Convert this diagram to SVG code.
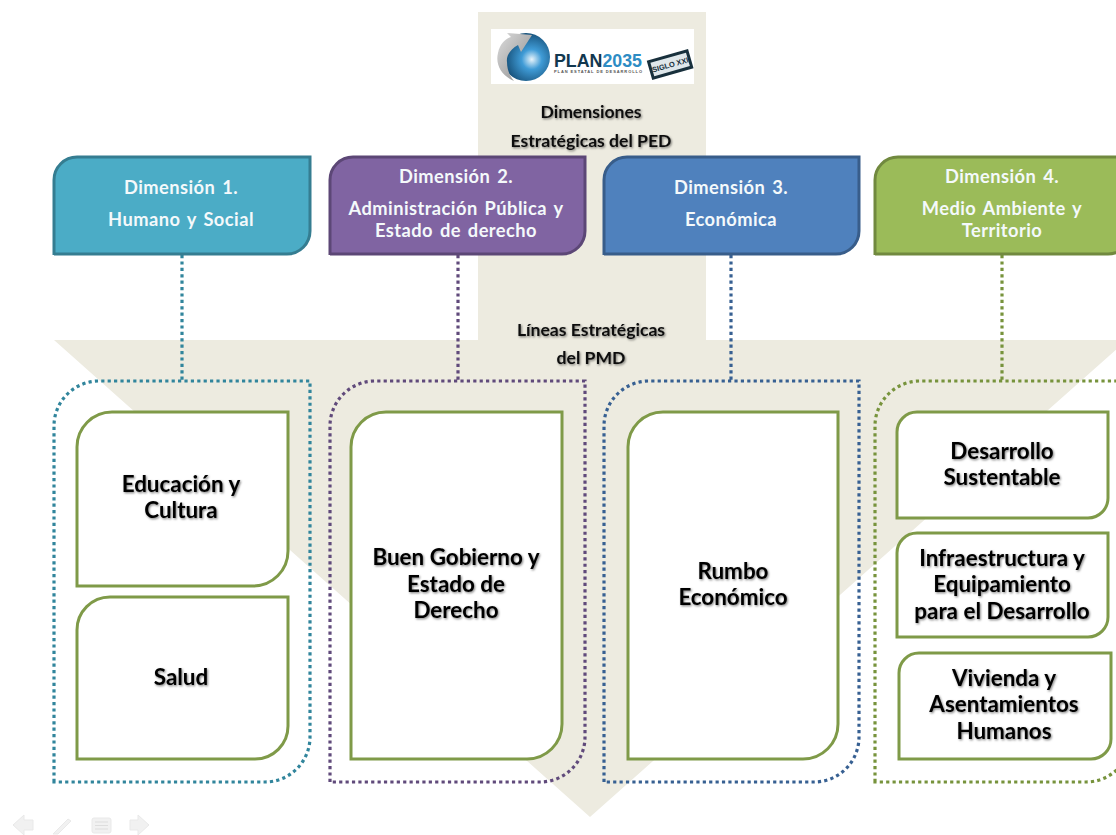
<svg xmlns="http://www.w3.org/2000/svg" width="1116" height="835" viewBox="0 0 1116 835">
<style>
text{font-family:Lato,"Open Sans","Liberation Sans",sans-serif;text-anchor:middle}
.dim{font-size:18.300px;font-weight:700;fill:#f4f9fb;letter-spacing:.45px;word-spacing:2px}
.head{font-size:17.600px;font-weight:700;fill:#111;filter:url(#sh)}
.lab{font-size:22.400px;font-weight:700;fill:#000;filter:url(#sh)}
.box{fill:#fff;stroke:#7f9a48;stroke-width:3}
.con{fill:none;stroke-width:3.200px;stroke-dasharray:3.200 3.200}
.nav{fill:#f1f1f1;stroke:#e9e9e9}
.lg{font-family:"Liberation Sans",sans-serif;font-weight:700;text-anchor:start}
</style>
<defs>
<filter id="sh" x="-10%" y="-20%" width="125%" height="150%"><feDropShadow dx="1" dy="1.200" stdDeviation="1" flood-color="#000" flood-opacity=".5"/></filter>
<radialGradient id="globe" cx=".62" cy=".55" r=".6"><stop offset="0" stop-color="#e8f4fb"/><stop offset=".35" stop-color="#3f9bd6"/><stop offset="1" stop-color="#12486f"/></radialGradient>
<linearGradient id="arr" x1="0" y1="0" x2="1" y2="1"><stop offset="0" stop-color="#dcdcdc"/><stop offset="1" stop-color="#8a8a8a"/></linearGradient>
</defs>
<g id="background"><path d="M478 12H706V340H1127L590 817L54 340H478Z" fill="#edebe0"/></g>
<g id="logo">
<rect x="491" y="29" width="203" height="55" fill="#fff"/>
<circle cx="526" cy="57" r="24" fill="url(#globe)"/>
<path d="M514 81C502 76 495 65 498 53C500 44 505 39 511 37L507 33L532 35L521 52L518 45C511 49 506 55 507 62C507 70 510 76 514 81Z" fill="url(#arr)"/>
<text class="lg" x="554" y="67" font-size="17.500" textLength="88" lengthAdjust="spacingAndGlyphs"><tspan fill="#12384f">PLAN</tspan><tspan fill="#2d8cc4">2035</tspan></text>
<text class="lg" x="554" y="73" font-size="4" fill="#555" textLength="88">PLAN ESTATAL DE DESARROLLO</text>
<g transform="rotate(-16 670 64)"><rect x="650" y="56" width="40" height="17" fill="#dfe7ea" stroke="#18303c" stroke-width="3"/><text x="670" y="67.500" style="font-family:'Liberation Sans',sans-serif;font-size:7.500px;font-weight:700;fill:#18303c">SIGLO XXI</text></g>
</g>
<text class="head" x="591" y="118">Dimensiones</text>
<text class="head" x="591" y="147">Estratégicas del PED</text>
<text class="head" x="591" y="336">Líneas Estratégicas</text>
<text class="head" x="591" y="364">del PMD</text>
<g id="connectors">
<path class="con" stroke="#31859c" d="M182 255V381M54 782V426A45 45 0 0 1 99 381H310V737A45 45 0 0 1 265 782Z"/>
<path class="con" stroke="#604a7b" d="M458 255V381M330 782V426A45 45 0 0 1 375 381H585V737A45 45 0 0 1 540 782Z"/>
<path class="con" stroke="#376092" d="M731 255V381M604 782V426A45 45 0 0 1 649 381H859V737A45 45 0 0 1 814 782Z"/>
<path class="con" stroke="#77933c" d="M1002 255V381M875 782V426A45 45 0 0 1 920 381H1131V737A45 45 0 0 1 1086 782Z"/>
</g>
<g id="dim1"><path d="M54 255V180A23 23 0 0 1 77 157H310V231A23 23 0 0 1 287 254H54Z" fill="#4bacc6" stroke="#357d91" stroke-width="3"/><text class="dim" x="181" y="194">Dimensión 1.</text><text class="dim" x="181" y="226">Humano y Social</text></g>
<g id="dim2"><path d="M330 255V180A23 23 0 0 1 353 157H585V231A23 23 0 0 1 562 254H330Z" fill="#8064a2" stroke="#5c4776" stroke-width="3"/><text class="dim" x="456" y="183">Dimensión 2.</text><text class="dim" x="456" y="215">Administración Pública y</text><text class="dim" x="456" y="237">Estado de derecho</text></g>
<g id="dim3"><path d="M604 255V180A23 23 0 0 1 627 157H859V231A23 23 0 0 1 836 254H604Z" fill="#4f81bd" stroke="#385d8a" stroke-width="3"/><text class="dim" x="731" y="194">Dimensión 3.</text><text class="dim" x="731" y="226">Económica</text></g>
<g id="dim4"><path d="M875 255V180A23 23 0 0 1 898 157H1131V231A23 23 0 0 1 1108 254H875Z" fill="#9bbb59" stroke="#71893f" stroke-width="3"/><text class="dim" x="1002" y="183">Dimensión 4.</text><text class="dim" x="1002" y="215">Medio Ambiente y</text><text class="dim" x="1002" y="237">Territorio</text></g>
<g id="educacion"><path class="box" d="M77 586V447A35 35 0 0 1 112 412H288V551A35 35 0 0 1 253 586Z"/><text class="lab" x="181" y="492">Educación y</text><text class="lab" x="181" y="518">Cultura</text></g>
<g id="salud"><path class="box" d="M77 759V630A33 33 0 0 1 110 597H288V726A33 33 0 0 1 255 759Z"/><text class="lab" x="181" y="685">Salud</text></g>
<g id="gobierno"><path class="box" d="M351 759V447A35 35 0 0 1 386 412H562V724A35 35 0 0 1 527 759Z"/><text class="lab" x="456" y="565">Buen Gobierno y</text><text class="lab" x="456" y="592">Estado de</text><text class="lab" x="456" y="618">Derecho</text></g>
<g id="rumbo"><path class="box" d="M628 759V447A35 35 0 0 1 663 412H838V724A35 35 0 0 1 803 759Z"/><text class="lab" x="733" y="579">Rumbo</text><text class="lab" x="733" y="605">Económico</text></g>
<g id="desarrollo"><path class="box" d="M897 518V432A20 20 0 0 1 917 412H1108V498A20 20 0 0 1 1088 518Z"/><text class="lab" x="1002" y="459">Desarrollo</text><text class="lab" x="1002" y="485">Sustentable</text></g>
<g id="infra"><path class="box" d="M897 637V553A20 20 0 0 1 917 533H1108V617A20 20 0 0 1 1088 637Z"/><text class="lab" x="1002" y="566">Infraestructura y</text><text class="lab" x="1002" y="592">Equipamiento</text><text class="lab" x="1002" y="619">para el Desarrollo</text></g>
<g id="vivienda"><path class="box" d="M899 759V673A20 20 0 0 1 919 653H1111V739A20 20 0 0 1 1091 759Z"/><text class="lab" x="1004" y="686">Vivienda y</text><text class="lab" x="1004" y="712">Asentamientos</text><text class="lab" x="1004" y="739">Humanos</text></g>
<g id="nav">
<path class="nav" d="M13 825L24 815V820H33V830H24V835Z"/>
<path class="nav" d="M53 834L68 819L71 821L58 834Z"/>
<rect class="nav" x="92" y="818" width="19" height="15" rx="2"/>
<path d="M95 822H108M95 825.500H108M95 829H108" stroke="#ddd" fill="none"/>
<path class="nav" d="M149 825L138 815V820H130V830H138V835Z"/>
</g>
</svg>
